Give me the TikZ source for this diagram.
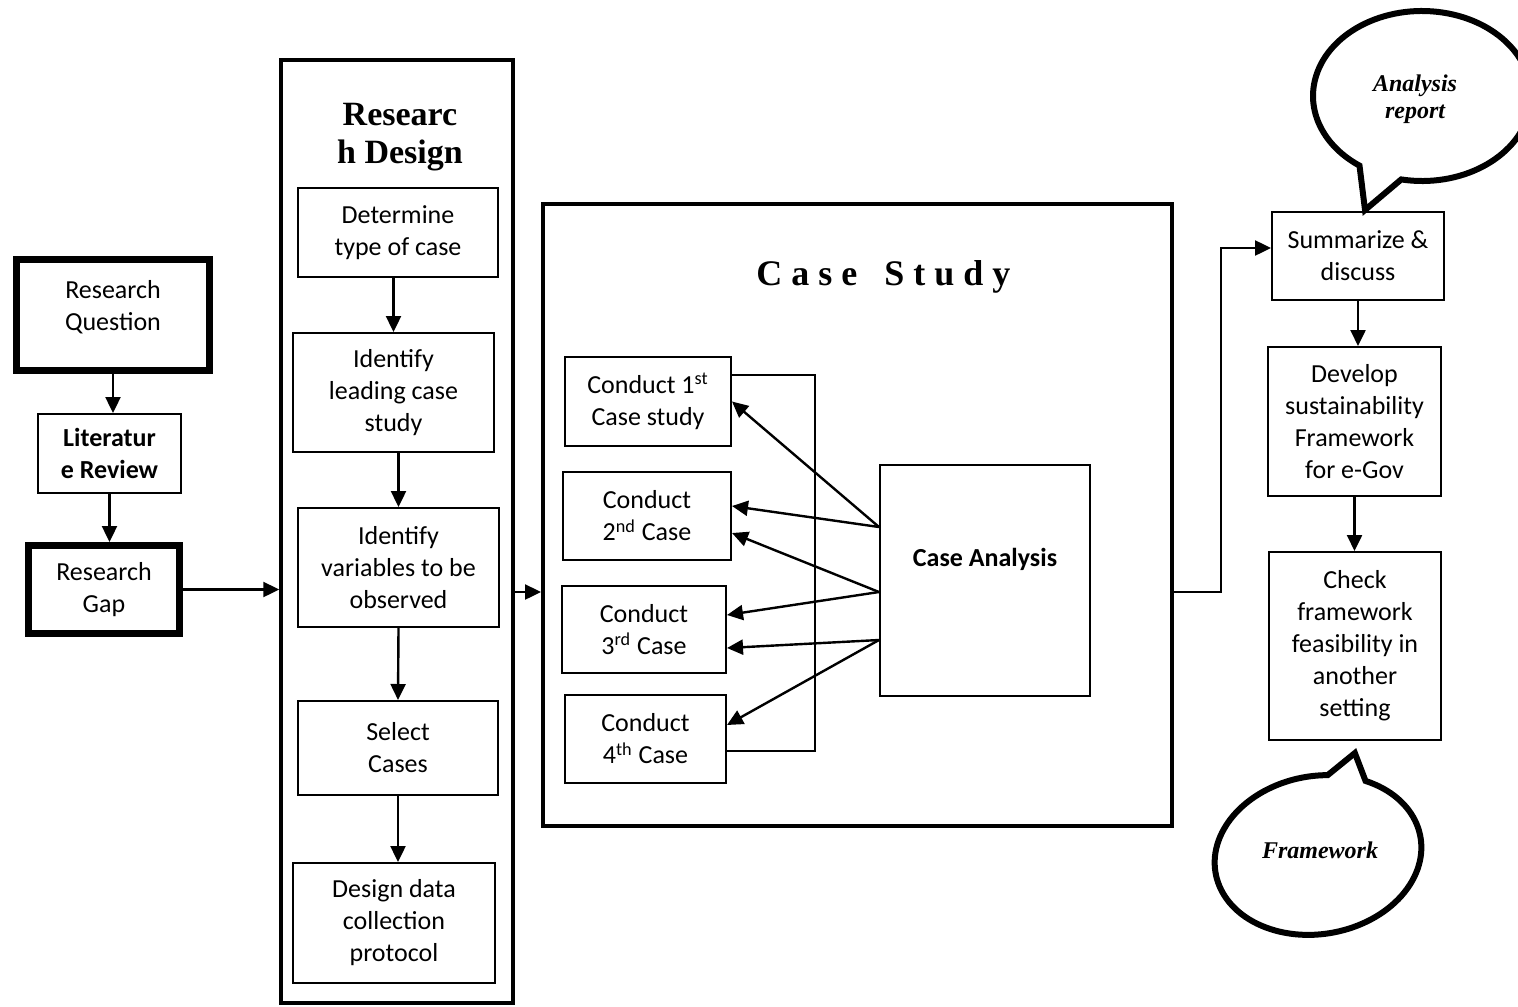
\documentclass[tikz,border=0pt]{standalone}
\usepackage{fontspec}
\setmainfont{Carlito}
\newfontfamily\tnr{Liberation Serif}
\usetikzlibrary{arrows.meta}
\newcommand\bodyfont{\fontsize{13}{16}\selectfont}
\begin{document}
\begin{tikzpicture}[x=0.5pt,y=-0.5pt,
  box/.style={draw, line width=1pt, align=center, inner sep=0pt, font=\bodyfont},
  heavy/.style={box, line width=3.5pt},
  frame/.style={draw, line width=1.75pt, inner sep=0pt},
  arr/.style={line width=1.2pt, -{Triangle[length=8pt,width=7.5pt]}},
  link/.style={line width=1pt},
  bubble/.style={line width=3pt, line join=miter},
  bubbletext/.style={align=center, font=\tnr\bfseries\itshape\fontsize{12}{13.5}\selectfont}]
\useasboundingbox[fill=white] (0,0) rectangle (1518,1006);

% left column
\node[heavy, minimum width=96.5pt, minimum height=55.5pt,
  label={[align=center, font=\bodyfont, yshift=4pt]center:Research\\Question}] (rq) at (113,315) {};
\node[box, minimum width=71.5pt, minimum height=39.5pt, font=\bodyfont\bfseries] (lit) at (109.5,453.5) {Literatur\\e Review};
\node[heavy, minimum width=75.5pt, minimum height=44pt] (gap) at (104,589.5) {Research\\Gap};
\draw[arr] (rq.south) -- (rq.south |- lit.north);
\draw[arr] (lit.south) -- (lit.south |- gap.north);

% research design
\node[frame, minimum width=116pt, minimum height=471.5pt] (rd) at (397,531.5) {};
\node[anchor=north, inner sep=0pt, align=center, font=\tnr\bfseries\fontsize{17}{19}\selectfont] (rdtitle) at (400,103) {Researc\\h Design};
\node[box, minimum width=100pt, minimum height=44.5pt] (det) at (398,232.5) {Determine\\type of case};
\node[box, minimum width=100.5pt, minimum height=59.5pt] (lead) at (393.5,392.5) {Identify\\leading case\\study};
\node[box, minimum width=100.5pt, minimum height=59.5pt] (var) at (398.5,567.5) {Identify\\variables to be\\observed};
\node[box, minimum width=100pt, minimum height=47pt] (sel) at (398,748) {Select\\Cases};
\node[box, minimum width=101pt, minimum height=60pt] (dsg) at (394,923) {Design data\\collection\\protocol};
\draw[arr] (det.south -| lead) -- (lead.north);
\draw[arr] (lead.south -| var) -- (var.north);
\draw[arr] (var.south) -- (sel.north);
\draw[arr] (sel.south) -- (sel.south |- dsg.north);
\draw[arr] (gap.east) -- (gap.east -| rd.west);

% case study
\coordinate (mid) at (0,592);
\node[draw, line width=2pt, inner sep=0pt, minimum width=314.5pt, minimum height=311pt] (cs) at (857.5,515) {};
\node[anchor=base west, inner sep=0pt, font=\tnr\bfseries\fontsize{18}{20}\selectfont\addfontfeature{LetterSpace=25}] (cstitle) at (756,285) {Case\hspace{4.5pt} Study};
\draw[arr] (rd.east |- mid) -- (cs.west |- mid);

\node[box, minimum width=83pt, minimum height=44.5pt] (c1) at (648,401.5) {Conduct 1\textsuperscript{st}\\Case study};
\node[box, minimum width=84pt, minimum height=44pt] (c2) at (647,516) {Conduct\\2\textsuperscript{nd} Case};
\node[box, minimum width=82pt, minimum height=43.5pt] (c3) at (644,629.5) {Conduct\\3\textsuperscript{rd} Case};
\node[box, minimum width=80.5pt, minimum height=44pt] (c4) at (645.5,739) {Conduct\\4\textsuperscript{th} Case};
\node[box, minimum width=105pt, minimum height=115.5pt,
  label={[font=\bodyfont\bfseries, yshift=10.75pt]center:Case Analysis}] (ca) at (985,580.5) {};

\coordinate (brT) at (815,375);
\coordinate (brB) at (815,751);
\draw[link] (c1.east |- brT) -- (brT) -- (brB) -- (c4.east |- brB);

\draw[arr] ([yshift=26.75pt]ca.west) -- (c1.east);
\draw[arr] ([yshift=26.75pt]ca.west) -- ([yshift=5pt]c2.east);
\draw[arr] ([yshift=-5.75pt]ca.west) -- ([yshift=-8.5pt]c2.east);
\draw[arr] ([yshift=-5.75pt]ca.west) -- ([yshift=7.25pt]c3.east);
\draw[arr] ([yshift=-29.75pt]ca.west) -- ([yshift=-9.25pt]c3.east);
\draw[arr] ([yshift=-29.75pt]ca.west) -- ([yshift=7pt]c4.east);

% right column
\node[box, minimum width=86pt, minimum height=44pt] (sum) at (1358,256) {Summarize \&\\discuss};
\node[box, minimum width=86.5pt, minimum height=74.5pt] (dev) at (1354.5,421.5) {Develop\\sustainability\\Framework\\for e-Gov};
\node[box, minimum width=86pt, minimum height=94pt] (chk) at (1355,646) {Check\\framework\\feasibility in\\another\\setting};
\draw[arr] (sum.south) -- (sum.south |- dev.north);
\draw[arr] (dev.south) -- (dev.south |- chk.north);
\coordinate (turn) at (1221,592);
\draw[arr] (cs.east |- mid) -- (turn) |- ([yshift=4pt]sum.west);

% speech bubbles
\coordinate (acen) at (1422,96);
\coordinate (atip) at (1365,210);
\draw[bubble] ([shift={(101:109 and 85)}]acen)
  arc[start angle=101, end angle=-235, x radius=109, y radius=85] -- (atip) -- cycle;
\node[bubbletext] (atext) at (1415,99) {Analysis\\report};

\begin{scope}[shift={(1318,855)}, rotate=10]
  \coordinate (ftip) at (54,-94);
  \draw[bubble] (-55:104 and 79)
    arc[start angle=-55, end angle=283, x radius=104, y radius=79] -- (ftip) -- cycle;
\end{scope}
\node[bubbletext] (ftext) at (1320,850) {Framework};
\end{tikzpicture}
\end{document}
